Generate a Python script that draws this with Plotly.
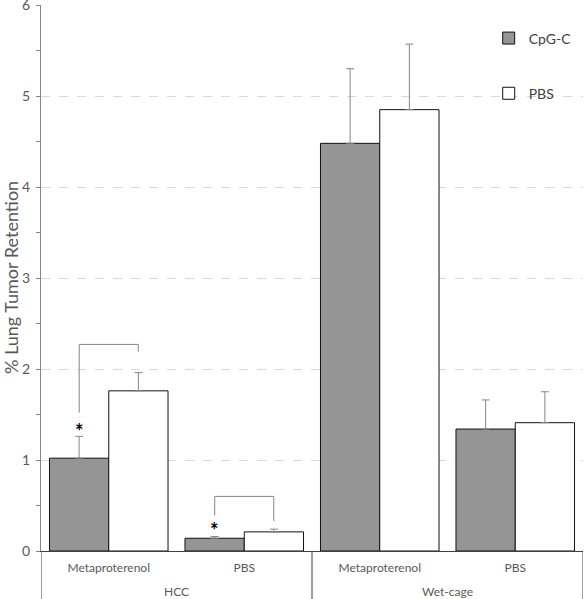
import plotly.graph_objects as go

outer_labels = ["HCC", "Wet-cage"]
inner = ["Metaproterenol", "PBS", "Metaproterenol", "PBS"]
cpg_vals = [1.02, 0.14, 4.48, 1.34]
cpg_err = [0.24, 0.02, 0.82, 0.32]
pbs_vals = [1.76, 0.21, 4.85, 1.41]
pbs_err = [0.20, 0.03, 0.72, 0.34]
series_names = ["CpG-C", "PBS"]
ytick_vals = [0, 1, 2, 3, 4, 5, 6]
y_title = "% Lung Tumor Retention"

# significance brackets: (category index, top, left leg bottom, right leg bottom, star y)
brackets = [(0, 2.27, 1.52, 2.19, 1.36), (1, 0.60, 0.39, 0.33, 0.27)]

pos = list(range(len(inner)))
font = "Lato, 'Open Sans', sans-serif"
grey = "#868686"
txt = "#595959"

W, H = 585, 599
ML, MR, MT, MB = 41, 2, 5, 48
plot_w = W - ML - MR
plot_h = H - MT - MB

fig = go.Figure()
fig.add_trace(go.Bar(
    x=pos, y=cpg_vals, name=series_names[0], legendgroup="a",
    marker=dict(color="#959595", line=dict(color="#111111", width=1)),
    error_y=dict(type="data", array=cpg_err, arrayminus=[0]*4, symmetric=False,
                 color=grey, thickness=1, width=4),
))
fig.add_trace(go.Bar(
    x=pos, y=pbs_vals, name=series_names[1], legendgroup="b",
    marker=dict(color="#ffffff", line=dict(color="#111111", width=1)),
    error_y=dict(type="data", array=pbs_err, arrayminus=[0]*4, symmetric=False,
                 color=grey, thickness=1, width=4),
))

off = 0.218
for idx, top, lb, rb, star in brackets:
    xl, xr = idx - off, idx + off
    fig.add_shape(type="path", xref="x", yref="y",
                  path=f"M {xl} {lb} L {xl} {top} L {xr} {top} L {xr} {rb}",
                  line=dict(color=grey, width=1))
    fig.add_annotation(x=xl, y=star, xref="x", yref="y", text="<b>*</b>", showarrow=False,
                       font=dict(size=20, color="#000000", family=font), yshift=-4)

# group dividers and group labels below the axis
bottom = -MB / plot_h
for xd in [-0.5, 1.5, 3.5]:
    fig.add_shape(type="line", xref="x", yref="paper", x0=xd, x1=xd, y0=0, y1=bottom,
                  line=dict(color="#404040", width=1))
for gi, lab in enumerate(outer_labels):
    fig.add_annotation(x=2 * gi + 0.5, y=-40 / plot_h, xref="x", yref="paper", text=lab,
                       showarrow=False, yanchor="middle",
                       font=dict(size=12, color=txt, family=font))

# y-axis title
fig.add_annotation(x=-30 / plot_w, y=0.5, xref="paper", yref="paper", text=y_title,
                   textangle=-90, showarrow=False, xanchor="center", yanchor="middle",
                   font=dict(size=18, color=txt, family=font))

fig.update_layout(
    width=W, height=H,
    margin=dict(l=ML, r=MR, t=MT, b=MB, autoexpand=False),
    paper_bgcolor="white", plot_bgcolor="white",
    barmode="group", bargap=0.125, bargroupgap=0,
    font=dict(family=font, color=txt, size=12),
    showlegend=True,
    legend=dict(x=0.826, y=0.968, xanchor="left", yanchor="top",
                traceorder="grouped", tracegroupgap=34,
                font=dict(size=14, color="#404040", family=font),
                bgcolor="rgba(0,0,0,0)", itemwidth=30),
    yaxis=dict(range=[0, 6], tickvals=ytick_vals, showgrid=True, automargin=False,
               gridcolor="#d9d9d9", griddash="dash", gridwidth=1,
               showline=True, linecolor=grey, linewidth=1,
               ticks="outside", ticklen=4, tickcolor=grey,
               minor=dict(dtick=0.5, ticks="outside", ticklen=4, tickcolor=grey, showgrid=False),
               ticklabelstandoff=3, ticklabeloverflow="allow",
               tickfont=dict(size=14, color=txt),
               zeroline=False),
    xaxis=dict(range=[-0.5, 3.5], tickvals=pos, ticktext=inner, automargin=False,
               showline=True, linecolor="#404040", linewidth=1,
               ticks="", ticklabelstandoff=6, showgrid=False, zeroline=False,
               ticklabeloverflow="allow",
               tickfont=dict(size=12, color=txt)),
)

fig.write_html("out.html", config={"displayModeBar": False},
               post_script="document.body.style.margin='0';")
